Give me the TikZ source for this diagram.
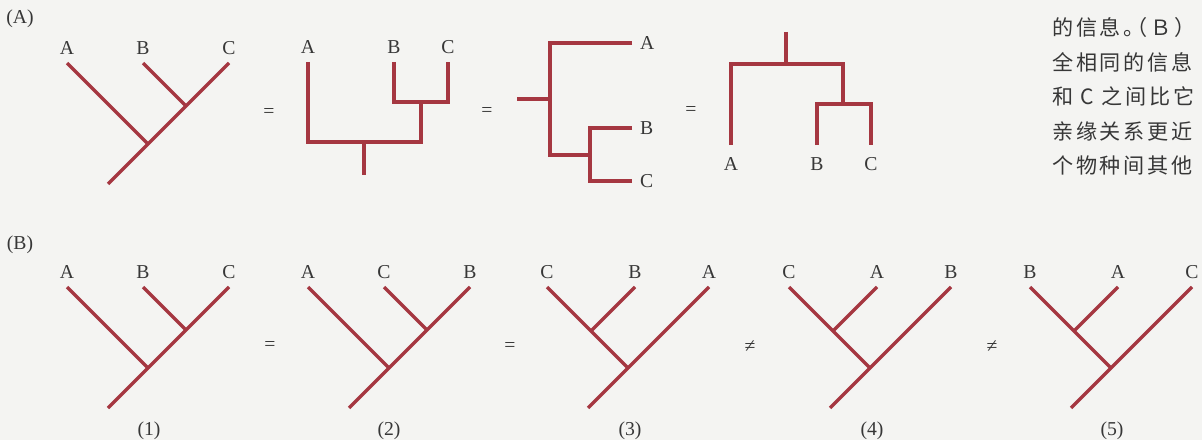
\documentclass[tikz,border=0pt]{standalone}
\usepackage{fontspec}
\setmainfont{Liberation Serif}
\newfontfamily\cjkfont[LetterSpace=13, RawFeature=+halt]{Noto Sans CJK SC}
\usetikzlibrary{positioning}
\definecolor{treered}{RGB}{165,55,65}
\definecolor{pagegray}{RGB}{244,244,242}
\definecolor{inkgray}{RGB}{55,55,55}

\begin{document}
\begin{tikzpicture}[x=0.025cm, y=-0.025cm,
    branch/.style={line width=2.4pt, color=treered},
    taxon/.style={font=\fontsize{14}{16}\selectfont, text=inkgray, inner sep=0pt},
    note/.style={font=\cjkfont\fontsize{15}{17}\selectfont, text=inkgray, inner sep=0pt, anchor=west}]
        % Page
        \useasboundingbox (0,0) rectangle (1202,440);
        \fill[pagegray] (0,0) rectangle (1202,440);

        % Panel letters
        \node[taxon] (panA) at (20,19) {(A)};
        \node[taxon] (panB) at (20,245) {(B)};

        % Slanted trees, inner pair branching off the main stem
        \foreach \t/\x/\y/\p/\q/\r in {a1/108/184/A/B/C, b1/108/408/A/B/C, b2/349/408/A/C/B} {
            \coordinate (\t-root) at (\x,\y);
            \coordinate (\t-j1) at (\x+40,\y-40);
            \coordinate (\t-j2) at (\x+78,\y-78);
            \coordinate (\t-l) at (\x-41,\y-121);
            \coordinate (\t-m) at (\x+35,\y-121);
            \coordinate (\t-r) at (\x+121,\y-121);
            \draw[branch] (\t-root) -- (\t-r);
            \draw[branch] (\t-l) -- (\t-j1);
            \draw[branch] (\t-m) -- (\t-j2);
            \node[taxon, above=5.5pt of \t-l] (\t-lab1) {\p};
            \node[taxon, above=5.5pt of \t-m] (\t-lab2) {\q};
            \node[taxon, above=5.5pt of \t-r] (\t-lab3) {\r};
        }

        % Slanted trees, inner pair branching off the left stem
        \foreach \t/\x/\p/\q/\r in {b3/588/C/B/A, b4/830/C/A/B, b5/1071/B/A/C} {
            \coordinate (\t-root) at (\x,408);
            \coordinate (\t-j1) at (\x+40,368);
            \coordinate (\t-k) at (\x+3,331);
            \coordinate (\t-l) at (\x-41,287);
            \coordinate (\t-m) at (\x+47,287);
            \coordinate (\t-r) at (\x+121,287);
            \draw[branch] (\t-root) -- (\t-r);
            \draw[branch] (\t-l) -- (\t-j1);
            \draw[branch] (\t-m) -- (\t-k);
            \node[taxon, above=5.5pt of \t-l] (\t-lab1) {\p};
            \node[taxon, above=5.5pt of \t-m] (\t-lab2) {\q};
            \node[taxon, above=5.5pt of \t-r] (\t-lab3) {\r};
        }

        % Square tree, root at the bottom
        \coordinate (a2-a) at (308,62);
        \coordinate (a2-b) at (394,62);
        \coordinate (a2-c) at (448,62);
        \coordinate (a2-bc) at (421,102);
        \coordinate (a2-abc) at (364,142);
        \coordinate (a2-root) at (364,175);
        \draw[branch] (a2-a) |- (a2-abc) -| (a2-bc);
        \draw[branch] (a2-b) |- (a2-bc) -| (a2-c);
        \draw[branch] (a2-abc) -- (a2-root);
        \node[taxon, above=5.5pt of a2-a] (a2-lab1) {A};
        \node[taxon, above=5.5pt of a2-b] (a2-lab2) {B};
        \node[taxon, above=5.5pt of a2-c] (a2-lab3) {C};

        % Square tree, root on the left
        \coordinate (a3-root) at (517,99);
        \coordinate (a3-abc) at (550,99);
        \coordinate (a3-a) at (632,43);
        \coordinate (a3-bc) at (590,155);
        \coordinate (a3-b) at (632,128);
        \coordinate (a3-c) at (632,181);
        \draw[branch] (a3-root) -- (a3-abc);
        \draw[branch] (a3-a) -| (a3-abc) |- (a3-bc);
        \draw[branch] (a3-b) -| (a3-bc) |- (a3-c);
        \node[taxon, right=5.5pt of a3-a] (a3-lab1) {A};
        \node[taxon, right=5.5pt of a3-b] (a3-lab2) {B};
        \node[taxon, right=5.5pt of a3-c] (a3-lab3) {C};

        % Square tree, root at the top
        \coordinate (a4-root) at (786,32);
        \coordinate (a4-abc) at (786,64);
        \coordinate (a4-a) at (731,145);
        \coordinate (a4-bc) at (843,104);
        \coordinate (a4-b) at (817,145);
        \coordinate (a4-c) at (871,145);
        \draw[branch] (a4-root) -- (a4-abc);
        \draw[branch] (a4-a) |- (a4-abc) -| (a4-bc);
        \draw[branch] (a4-b) |- (a4-bc) -| (a4-c);
        \node[taxon, below=9pt of a4-a] (a4-lab1) {A};
        \node[taxon, below=9pt of a4-b] (a4-lab2) {B};
        \node[taxon, below=9pt of a4-c] (a4-lab3) {C};

        % Relation signs
        \foreach \n/\x/\y/\s in {1/269/113/=, 2/487/112/=, 3/691/111/=, 4/270/346/=, 5/510/347/=, 6/750/347/≠, 7/992/347/≠}
            \node[taxon] (sign\n) at (\x,\y) {\s};

        % Tree numbers
        \foreach \n/\x in {1/149, 2/389, 3/630, 4/872, 5/1112}
            \node[taxon] (num\n) at (\x,431) {(\n)};

        % Running text at the edge
        \foreach \i/\s in {1/的信息。（Ｂ）, 2/全相同的信息, 3/和 C 之间比它, 4/亲缘关系更近, 5/个物种间其他}
            \node[note] (line\i) at (1052,-7+34.5*\i) {\s};
    \end{tikzpicture}
\end{document}
